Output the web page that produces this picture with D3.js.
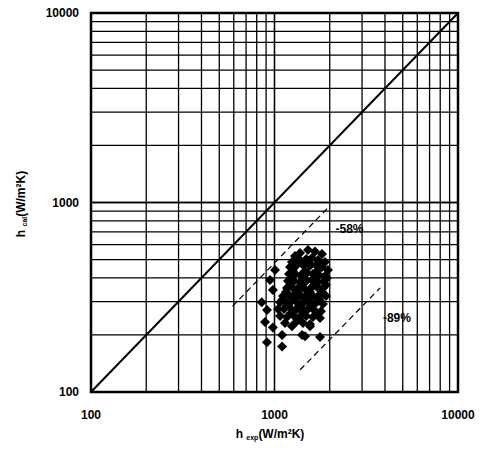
<!DOCTYPE html>
<html>
<head>
<meta charset="utf-8">
<script src="https://cdn.jsdelivr.net/npm/d3@7"></script>
<style>
  body { margin: 0; background: #fff; }
  svg text { font-family: "Liberation Sans", Arial, sans-serif; font-weight: bold; fill: #000; }
</style>
</head>
<body>
<svg id="chart" width="490" height="456"></svg>
<script>
// Datos (h_exp, h_cal en W/m²K)
const hExp = [
  1377, 1522, 1662, 1815, 1293,
  1245, 1377, 1490, 1600, 1726, 1884,
  1215, 1310, 1430, 1561, 1680, 1815, 1955,
  1200, 1293, 1395, 1505, 1620, 1750, 1884,
  1185, 1277, 1377, 1490, 1600, 1726, 1860,
  1170, 1261, 1360, 1467, 1580, 1705, 1837,
  1113, 1200, 1293, 1395, 1505, 1620, 1770, 1908,
  1072, 1155, 1245, 1342, 1450, 1561, 1680, 1837,
  1046, 1127, 1215, 1310, 1413, 1522, 1640, 1793,
  1072, 1170, 1277, 1377, 1490, 1620, 1770,
  1141, 1310, 1430, 1561,
  1326, 1541, 1793, 1261, 1467, 1705, 1230, 1430, 1662, 1930,
  1215, 1413, 1640, 1908, 1155, 1342, 1561, 1815, 1113, 1293, 1505, 1750,
  1170, 1360, 1580, 1230, 1430, 1705,
  1006, 945, 980, 852, 910, 888, 980, 910, 1100, 1100, 1245, 1413, 1561, 1770, 1467
];
const hCal = [
  541, 561, 551, 535, 522,
  485, 497, 503, 510, 497, 485,
  457, 463, 468, 463, 468, 457, 440,
  419, 419, 414, 425, 419, 414, 409,
  385, 385, 380, 385, 390, 380, 385,
  354, 354, 358, 349, 354, 358, 354,
  321, 325, 329, 321, 325, 321, 329, 321,
  298, 298, 302, 295, 298, 298, 295, 291,
  274, 274, 278, 271, 274, 274, 271, 267,
  252, 249, 252, 249, 252, 249, 246,
  231, 234, 231, 228,
  480, 480, 480, 435, 435, 435, 399, 399, 399, 399,
  367, 367, 367, 367, 337, 337, 337, 337, 310, 310, 310, 310,
  285, 285, 285, 261, 261, 261,
  440, 390, 345, 298, 271, 234, 219, 183, 200, 174, 222, 200, 222, 195, 197
];

// Líneas de referencia: y = x y las dos bandas de error
const diagonal = [[100, 100], [10000, 10000]];
const bandUpper = [[590, 283], [2000, 960]];
const bandLower = [[1380, 131], [3760, 354]];
const bandLabels = [
  { text: "-58%", x: 2150, y: 690 },
  { text: "-89%", x: 3900, y: 235 }
];
const tickValues = [100, 1000, 10000];

const svg = d3.select('#chart');
const x = d3.scaleLog().domain([100, 10000]).range([91, 458]);
const y = d3.scaleLog().domain([100, 10000]).range([392, 13]);

// Rejilla logarítmica (2..9 por década)
const gridVals = [];
[100, 1000].forEach(d => { for (let k = 1; k <= 10; k++) gridVals.push(d * k); });
const grid = svg.append('g');
grid.selectAll('line.gx')
  .data(gridVals)
  .enter().append('line')
  .attr('x1', d => x(d)).attr('x2', d => x(d))
  .attr('y1', y(100)).attr('y2', y(10000))
  .attr('stroke', '#000').attr('stroke-width', 1.3);
grid.selectAll('line.gy')
  .data(gridVals)
  .enter().append('line')
  .attr('y1', d => y(d)).attr('y2', d => y(d))
  .attr('x1', x(100)).attr('x2', x(10000))
  .attr('stroke', '#000').attr('stroke-width', 1.3);

// Marco
svg.append('rect')
  .attr('x', x(100)).attr('y', y(10000))
  .attr('width', x(10000) - x(100)).attr('height', y(100) - y(10000))
  .attr('fill', 'none').attr('stroke', '#000').attr('stroke-width', 2.5);

const line = d3.line().x(d => x(d[0])).y(d => y(d[1]));

svg.append('path').attr('d', line(diagonal))
  .attr('fill', 'none').attr('stroke', '#000').attr('stroke-width', 2);

[bandUpper, bandLower].forEach(b => {
  svg.append('path').attr('d', line(b))
    .attr('fill', 'none').attr('stroke', '#000')
    .attr('stroke-width', 1.2).attr('stroke-dasharray', '6,4');
});

// Puntos (rombos: cuadrado girado 45°)
const sym = d3.symbol().type(d3.symbolSquare).size(50);
svg.append('g').selectAll('path')
  .data(hExp.map((v, i) => [v, hCal[i]]))
  .enter().append('path')
  .attr('d', sym)
  .attr('transform', d => `translate(${x(d[0])},${y(d[1])}) rotate(45)`)
  .attr('fill', '#000');

svg.selectAll('text.band')
  .data(bandLabels)
  .enter().append('text')
  .attr('x', d => x(d.x)).attr('y', d => y(d.y))
  .attr('font-size', 12)
  .text(d => d.text);

// Etiquetas de ejes
svg.selectAll('text.xt')
  .data(tickValues)
  .enter().append('text')
  .attr('x', d => x(d)).attr('y', 419)
  .attr('text-anchor', 'middle').attr('font-size', 12)
  .text(d => d);
svg.selectAll('text.yt')
  .data(tickValues)
  .enter().append('text')
  .attr('x', 79).attr('y', d => y(d) + 4)
  .attr('text-anchor', 'end').attr('font-size', 12)
  .text(d => d);

// Títulos
const xt = svg.append('text').attr('x', 270).attr('y', 438)
  .attr('text-anchor', 'middle').attr('font-size', 12);
xt.append('tspan').text('h ');
xt.append('tspan').attr('font-size', 7).attr('dy', 2).text('exp');
xt.append('tspan').attr('dy', -2).text('(W/m²K)');

const yt = svg.append('text')
  .attr('transform', 'translate(25,204) rotate(-90)')
  .attr('text-anchor', 'middle').attr('font-size', 12);
yt.append('tspan').text('h ');
yt.append('tspan').attr('font-size', 7).attr('dy', 2).text('cal');
yt.append('tspan').attr('dy', -2).text('(W/m²K)');
</script>
</body>
</html>
